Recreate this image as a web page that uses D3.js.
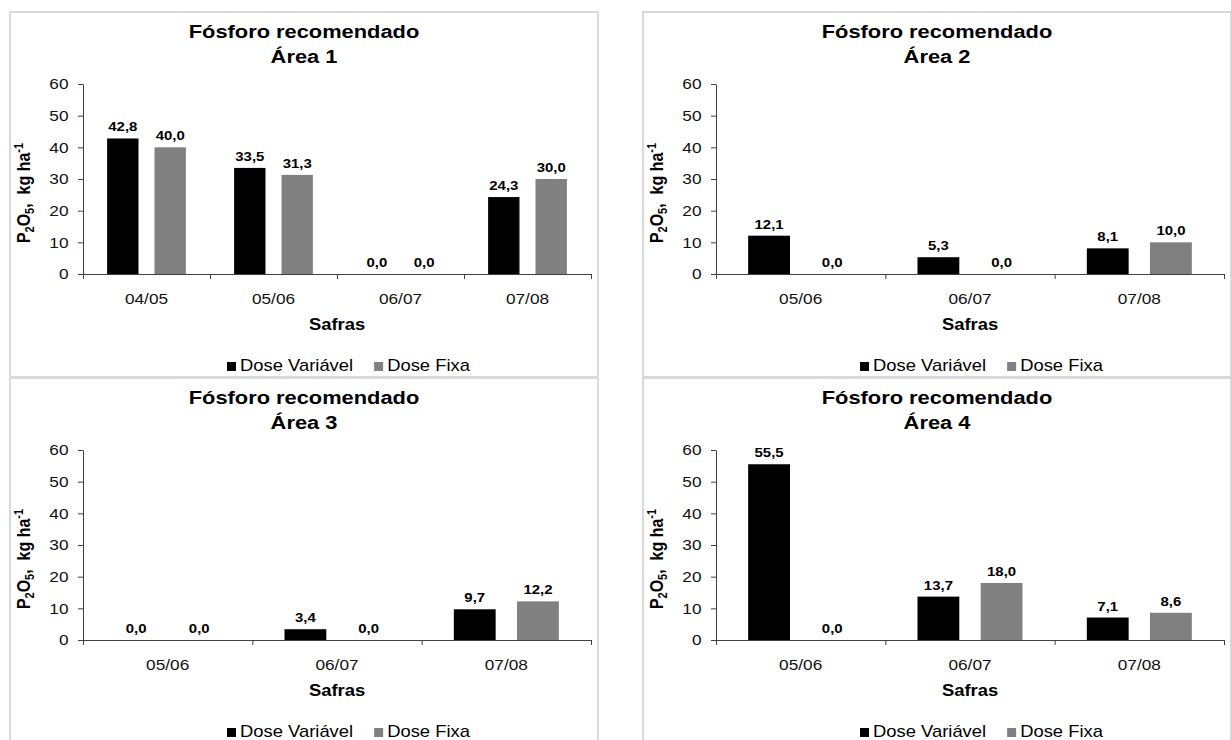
<!DOCTYPE html>
<html>
<head>
<meta charset="utf-8">
<script src="https://cdn.jsdelivr.net/npm/d3@7"></script>
<style>
  html, body { margin: 0; padding: 0; background: #ffffff; }
  svg { display: block; font-family: "Liberation Sans", Arial, sans-serif; }
</style>
</head>
<body>
<svg id="chart" width="1231" height="740"></svg>
<script>
// Crop seasons (safras) for each area
const safrasArea1 = ["04/05", "05/06", "06/07", "07/08"];
const safrasArea2 = ["05/06", "06/07", "07/08"];
const safrasArea3 = ["05/06", "06/07", "07/08"];
const safrasArea4 = ["05/06", "06/07", "07/08"];

// Recommended P2O5 (kg/ha): variable-rate vs fixed-rate dose
const doseVariavelArea1 = [42.8, 33.5, 0.0, 24.3];
const doseFixaArea1     = [40.0, 31.3, 0.0, 30.0];
const doseVariavelArea2 = [12.1, 5.3, 8.1];
const doseFixaArea2     = [0.0, 0.0, 10.0];
const doseVariavelArea3 = [0.0, 3.4, 9.7];
const doseFixaArea3     = [0.0, 0.0, 12.2];
const doseVariavelArea4 = [55.5, 13.7, 7.1];
const doseFixaArea4     = [0.0, 18.0, 8.6];

const yTicks = [0, 10, 20, 30, 40, 50, 60];
const seriesNames = ["Dose Variável", "Dose Fixa"];
const seriesColors = ["#000000", "#808080"];
const titleLine1 = "Fósforo recomendado";
const areaTitles = ["Área 1", "Área 2", "Área 3", "Área 4"];
const xAxisTitle = "Safras";

// Panel layout
const PW = 588, PH = 365;
const SX = 1.15; // horizontal text widening used by the original typesetting
const panels = [
  { x: 10,  y: 12,  cats: safrasArea1, values: [doseVariavelArea1, doseFixaArea1], title: areaTitles[0] },
  { x: 643, y: 12,  cats: safrasArea2, values: [doseVariavelArea2, doseFixaArea2], title: areaTitles[1] },
  { x: 10,  y: 378, cats: safrasArea3, values: [doseVariavelArea3, doseFixaArea3], title: areaTitles[2] },
  { x: 643, y: 378, cats: safrasArea4, values: [doseVariavelArea4, doseFixaArea4], title: areaTitles[3] }
];

const svg = d3.select("#chart");
const fmt = v => d3.format(".1f")(v).replace(".", ",");

function wideText(parent, x, y, str, size, weight, anchor) {
  return parent.append("text")
    .attr("transform", `translate(${x},${y}) scale(${SX},1)`)
    .attr("text-anchor", anchor || "middle")
    .attr("font-size", size)
    .attr("font-weight", weight || "normal")
    .attr("fill", "#000")
    .text(str);
}

function drawPanel(p) {
  const g = svg.append("g").attr("transform", `translate(${p.x},${p.y})`);

  g.append("rect")
    .attr("x", 0).attr("y", 0).attr("width", PW).attr("height", PH)
    .attr("fill", "#ffffff").attr("stroke", "#d9d9d9").attr("stroke-width", 2);

  const left = 73, right = 581, top = 72, bottom = 262;

  const x = d3.scaleBand().domain(p.cats).range([left, right]).paddingInner(0).paddingOuter(0);
  const sub = d3.scaleBand().domain([0, 1]).range([0, x.bandwidth()])
    .paddingInner(0.338).paddingOuter(0.509);
  const y = d3.scaleLinear().domain([0, 60]).range([bottom, top]);

  // Title
  wideText(g, PW / 2, 26, titleLine1, 19, "bold");
  wideText(g, PW / 2, 51, p.title, 19, "bold");

  // Bars
  p.values.forEach((series, si) => {
    g.append("g").selectAll("rect")
      .data(series.map((v, i) => ({ cat: p.cats[i], v })))
      .join("rect")
      .attr("x", d => x(d.cat) + sub(si))
      .attr("y", d => y(d.v))
      .attr("width", sub.bandwidth())
      .attr("height", d => y(0) - y(d.v))
      .attr("fill", seriesColors[si]);

    series.forEach((v, i) => {
      wideText(g, x(p.cats[i]) + sub(si) + sub.bandwidth() / 2, y(v) - 7, fmt(v), 13, "bold");
    });
  });

  // Y axis
  const yAxis = g.append("g")
    .attr("transform", `translate(${left},0)`)
    .call(d3.axisLeft(y).tickValues(yTicks).tickSize(5).tickPadding(9.5).tickSizeOuter(0));
  yAxis.select(".domain").attr("stroke", "#404040");
  yAxis.selectAll(".tick line").attr("stroke", "#404040");
  yAxis.selectAll(".tick text")
    .attr("font-size", 15).attr("font-family", null).attr("fill", "#111")
    .attr("x", -14.5 / SX).attr("transform", `scale(${SX},1)`);

  // X axis: tick marks on category boundaries
  const idx = d3.scaleLinear().domain([0, p.cats.length]).range([left, right]);
  const xTicks = g.append("g")
    .attr("transform", `translate(0,${bottom})`)
    .call(d3.axisBottom(idx).tickValues(d3.range(p.cats.length + 1)).tickSize(5).tickSizeOuter(0).tickFormat(""));
  xTicks.select(".domain").attr("stroke", "#404040");
  xTicks.selectAll(".tick line").attr("stroke", "#404040");

  // X axis: category labels
  const xLabels = g.append("g")
    .attr("transform", `translate(0,${bottom})`)
    .call(d3.axisBottom(x).tickSize(0));
  xLabels.select(".domain").remove();
  xLabels.selectAll(".tick text")
    .attr("font-size", 15).attr("font-family", null).attr("fill", "#111")
    .attr("y", 30).attr("dy", 0).attr("transform", `scale(${SX},1)`);

  // Axis titles
  wideText(g, (left + right) / 2, 318, xAxisTitle, 16, "bold");

  const yt = g.append("text")
    .attr("transform", `translate(19.5,181) rotate(-90) scale(1,${SX})`)
    .attr("text-anchor", "middle")
    .attr("font-size", 16)
    .attr("font-weight", "bold")
    .attr("fill", "#000");
  yt.append("tspan").text("P");
  yt.append("tspan").attr("font-size", 11).attr("dy", 4).text("2");
  yt.append("tspan").attr("dy", -4).text("O");
  yt.append("tspan").attr("font-size", 11).attr("dy", 4).text("5");
  yt.append("tspan").attr("dy", -4).text(",\u00a0 kg ha");
  yt.append("tspan").attr("font-size", 11).attr("dy", -6).text("-1");

  // Legend
  const lg = g.append("g");
  let lx = 217;
  seriesNames.forEach((name, i) => {
    lg.append("rect").attr("x", lx).attr("y", 350).attr("width", 9).attr("height", 9)
      .attr("fill", seriesColors[i]);
    const t = wideText(lg, lx + 13, 359, name, 16, "normal", "start");
    lx = lx + 13 + t.node().getComputedTextLength() * SX + 21;
  });
}

panels.forEach(drawPanel);
</script>
</body>
</html>
